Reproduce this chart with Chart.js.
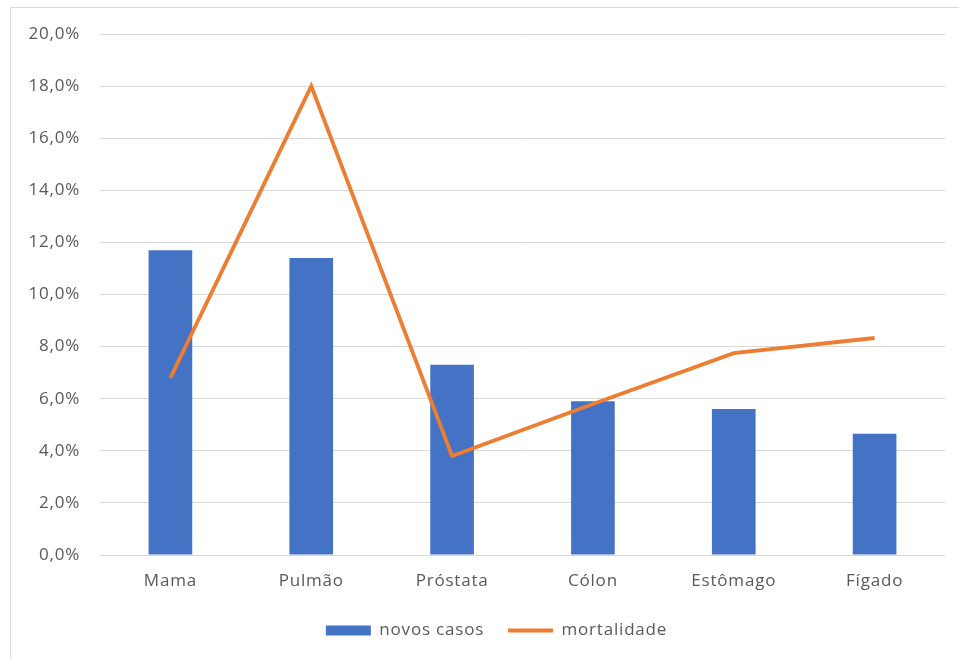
<!DOCTYPE html>
<html>
<head>
<meta charset="utf-8">
<script src="https://cdn.jsdelivr.net/npm/chart.js@4.4.1/dist/chart.umd.min.js"></script>
<style>
	html, body { margin: 0; padding: 0; background: #fff; overflow: hidden; }
	#wrap { position: relative; width: 959px; height: 659px; }
	#frame { position: absolute; left: 10px; top: 7px; width: 1000px; height: 700px; border: 1px solid #d9d9d9; pointer-events: none; }
	canvas { position: absolute; left: 0; top: 0; }
</style>
</head>
<body>
<div id="wrap">
	<canvas id="myChart" width="959" height="659"></canvas>
	<div id="frame"></div>
</div>
<script>
const labels = ['Mama', 'Pulmão', 'Próstata', 'Cólon', 'Estômago', 'Fígado'];
const novosCasos = [11.7, 11.4, 7.3, 5.9, 5.6, 4.65];
const mortalidade = [6.8, 18.0, 3.8, 5.8, 7.75, 8.33];

document.addEventListener("DOMContentLoaded", function () {
	var ctx = document.getElementById('myChart').getContext('2d');
	var fontFamily = '"Open Sans", "DejaVu Sans", sans-serif';

	// slightly wider text, canvas state gets reset so set it before measuring and drawing
	var spacing = {
		id: 'spacing',
		beforeUpdate: function (chart) { chart.ctx.letterSpacing = '0.8px'; },
		beforeDraw: function (chart) { chart.ctx.letterSpacing = '0.8px'; },
		afterLayout: function (chart) {
			// center the legend under the plot area rather than the canvas
			chart.legend.left += 24;
			chart.legend.right += 24;
		}
	};

	var myChart = new Chart(ctx, {
		type: 'bar',
		data: {
			labels: labels,
			datasets: [{
				type: 'bar',
				label: 'novos casos',
				data: novosCasos,
				backgroundColor: '#4472C4',
				borderWidth: 0,
				pointStyle: 'rect',
				categoryPercentage: 1,
				barPercentage: 0.31,
				order: 2
			}, {
				type: 'line',
				label: 'mortalidade',
				data: mortalidade,
				borderColor: '#ED7D31',
				backgroundColor: '#ED7D31',
				borderWidth: 3.8,
				pointRadius: 0,
				pointStyle: 'line',
				tension: 0,
				order: 1
			}]
		},
		plugins: [spacing],
		options: {
			responsive: false,
			animation: false,
			layout: {
				padding: { left: 0, right: 14, top: 34, bottom: 21 }
			},
			scales: {
				x: {
					grid: { display: false },
					border: { display: false },
					ticks: {
						color: '#595959',
						padding: 8,
						font: { family: fontFamily, size: 17 }
					},
					afterFit: function (scale) { scale.height = 43; }
				},
				y: {
					min: 0,
					max: 20,
					ticks: {
						stepSize: 2,
						color: '#595959',
						padding: 20,
						font: { family: fontFamily, size: 17 },
						callback: function (v) { return v.toFixed(1).replace('.', ',') + '%'; }
					},
					grid: { color: '#d9d9d9', lineWidth: 1, drawTicks: false },
					border: { display: false },
					afterFit: function (scale) { scale.width = 100; }
				}
			},
			plugins: {
				tooltip: { enabled: false },
				legend: {
					position: 'bottom',
					maxHeight: 40,
					labels: {
						usePointStyle: true,
						pointStyleWidth: 45,
						boxHeight: 10,
						padding: 24,
						color: '#595959',
						font: { family: fontFamily, size: 17 },
						sort: function (a, b) { return a.datasetIndex - b.datasetIndex; }
					}
				}
			}
		}
	});
});
</script>
</body>
</html>
